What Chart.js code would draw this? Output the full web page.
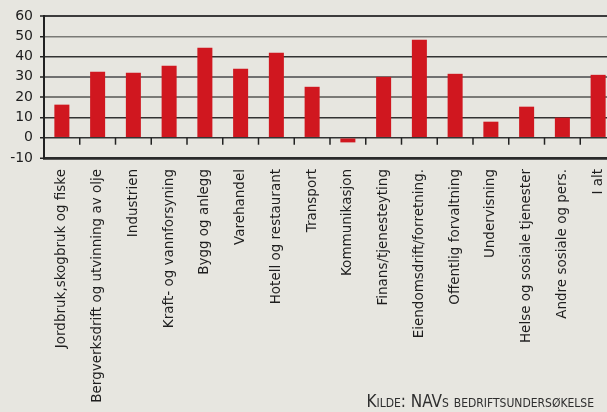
<!DOCTYPE html>
<html>
<head>
<meta charset="utf-8">
<script src="https://cdn.jsdelivr.net/npm/chart.js@4/dist/chart.umd.min.js"></script>
<style>
  html, body { margin:0; padding:0; background:#e7e6e0; overflow:hidden; width:607px; height:412px; }
  #wrap { position:absolute; left:0; top:0; width:620px; height:412px; }
  #src { position:absolute; right:13px; bottom:1px; font-family:"Liberation Sans Narrow","DejaVu Sans Condensed","Liberation Sans",sans-serif; font-variant:small-caps; font-size:17px; color:#2e2e2e; white-space:nowrap; }
</style>
</head>
<body>
<div id="wrap"><canvas id="c"></canvas></div>
<div id="src">Kilde: NAVs bedriftsundersøkelse</div>
<script>
const categories = [
  "Jordbruk,skogbruk og fiske",
  "Bergverksdrift og utvinning av olje",
  "Industrien",
  "Kraft- og vannforsyning",
  "Bygg og anlegg",
  "Varehandel",
  "Hotell og restaurant",
  "Transport",
  "Kommunikasjon",
  "Finans/tjenesteyting",
  "Eiendomsdrift/forretning.",
  "Offentlig forvaltning",
  "Undervisning",
  "Helse og sosiale tjenester",
  "Andre sosiale og pers.",
  "I alt"
];
const values = [16.3, 32.5, 32, 35.5, 44.3, 34, 41.9, 25.1, -2.3, 30, 48.3, 31.5, 7.9, 15.3, 9.9, 31];
const yMin = -10, yMax = 60, yStep = 10;

const gridColors = {"60":"#3c3c3c","50":"#7a7a76","40":"#333333","30":"#707070","20":"#7a7a76","10":"#333333","0":"#333333","-10":"#2a2a2a"};
const gridWidths = {"60":2,"50":1.5,"40":1.5,"30":2,"20":2,"10":1.5,"0":1.5,"-10":2.5};

const zeroTicks = {
  id:'zeroTicks',
  afterDraw(chart){
    const x = chart.scales.x, y = chart.scales.y, ctx = chart.ctx;
    const y0 = y.getPixelForValue(0);
    ctx.save();
    ctx.strokeStyle = '#222';
    ctx.lineWidth = 1.5;
    for (let i = 1; i < categories.length; i++) {
      const px = (x.getPixelForValue(i-1) + x.getPixelForValue(i)) / 2;
      ctx.beginPath();
      ctx.moveTo(px, y0);
      ctx.lineTo(px, y0 + 7);
      ctx.stroke();
    }
    ctx.restore();
  }
};

new Chart(document.getElementById('c'), {
  type:'bar',
  data:{ labels:categories, datasets:[{ data:values, backgroundColor:'#d0171f', barPercentage:0.42, categoryPercentage:1 }] },
  options:{
    responsive:true, maintainAspectRatio:false, animation:false,
    layout:{ padding:{ top:16, right:4, left:0, bottom:0 } },
    plugins:{ legend:{display:false}, tooltip:{enabled:false} },
    scales:{
      x:{
        grid:{ display:false },
        border:{ display:true, color:'#2a2a2a', width:2.5 },
        ticks:{ color:'#1e1e1e', font:{ family:'DejaVu Sans', size:13.5 }, maxRotation:90, minRotation:90, padding:3, autoSkip:false },
        afterFit(s){ s.height = 254; }
      },
      y:{
        min:yMin, max:yMax,
        ticks:{ stepSize:yStep, color:'#1e1e1e', font:{ family:'DejaVu Sans', size:14 }, padding:7 },
        grid:{ color:c=>gridColors[String(c.tick.value)]||'#555', lineWidth:c=>gridWidths[String(c.tick.value)]||1.5, tickLength:4, tickColor:'#222', tickWidth:1.5 },
        border:{ display:true, color:'#222', width:2 },
        afterFit(s){ s.width = 44; }
      }
    }
  },
  plugins:[zeroTicks]
});
</script>
</body>
</html>
